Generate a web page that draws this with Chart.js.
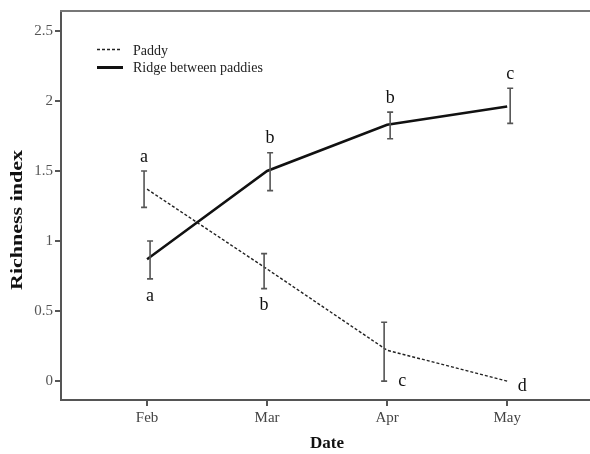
<!DOCTYPE html>
<html>
<head>
<meta charset="utf-8">
<script src="https://cdn.jsdelivr.net/npm/chart.js@4/dist/chart.umd.min.js"></script>
<style>
  html, body { margin: 0; padding: 0; background: #fff; }
  #wrap { width: 590px; height: 454px; position: relative; }
</style>
</head>
<body>
<div id="wrap"><canvas id="c" width="590" height="454"></canvas></div>
<script>
// ---- data ----
const months = ['Feb', 'Mar', 'Apr', 'May'];
const paddyMean = [1.37, 0.80, 0.22, 0.00];
const paddyUpper = [1.50, 0.91, 0.42, null];
const paddyLower = [1.24, 0.66, 0.00, null];
const paddyLetters = ['a', 'b', 'c', 'd'];
const ridgeMean = [0.87, 1.50, 1.83, 1.96];
const ridgeUpper = [1.00, 1.63, 1.92, 2.09];
const ridgeLower = [0.73, 1.36, 1.73, 1.84];
const ridgeLetters = ['a', 'b', 'b', 'c'];
const yTicks = [0, 0.5, 1, 1.5, 2, 2.5];
const xTitle = 'Date';
const yTitle = 'Richness index';
const seriesNames = ['Paddy', 'Ridge between paddies'];

const SERIF = '"Liberation Serif", "Times New Roman", serif';
const AXIS = '#555';

const extras = {
  id: 'extras',
  afterDatasetsDraw(chart) {
    const { ctx, chartArea, scales: { x, y } } = chart;
    ctx.save();
    // top frame line
    ctx.strokeStyle = '#777';
    ctx.lineWidth = 2;
    ctx.beginPath();
    ctx.moveTo(chartArea.left - 1, chartArea.top);
    ctx.lineTo(chartArea.right, chartArea.top);
    ctx.stroke();

    // error bars
    const drawErr = (upper, lower, dx) => {
      ctx.strokeStyle = '#555';
      ctx.lineWidth = 1.6;
      upper.forEach((u, i) => {
        if (u === null) return;
        const px = x.getPixelForValue(i + dx);
        const pt = y.getPixelForValue(u);
        const pb = y.getPixelForValue(lower[i]);
        ctx.beginPath();
        ctx.moveTo(px, pt); ctx.lineTo(px, pb);
        ctx.moveTo(px - 3, pt); ctx.lineTo(px + 3, pt);
        ctx.moveTo(px - 3, pb); ctx.lineTo(px + 3, pb);
        ctx.stroke();
      });
    };
    drawErr(paddyUpper, paddyLower, -0.025);
    drawErr(ridgeUpper, ridgeLower, 0.025);

    // letters
    ctx.fillStyle = '#111';
    ctx.font = '18px ' + SERIF;
    ctx.textAlign = 'center';
    ctx.textBaseline = 'middle';
    const paddyPlace = ['above', 'below', 'right', 'right'];
    const ridgePlace = ['below', 'above', 'above', 'above'];
    const drawLetters = (letters, place, mean, upper, lower, dx) => {
      letters.forEach((l, i) => {
        const px = x.getPixelForValue(i + dx);
        let tx = px, ty;
        if (place[i] === 'above') ty = y.getPixelForValue(upper[i]) - 14;
        else if (place[i] === 'below') ty = y.getPixelForValue(lower[i]) + 17;
        else { tx = px + 18; ty = y.getPixelForValue(lower[i] !== null ? lower[i] : mean[i]) + (lower[i] !== null ? 0 : 5); }
        ctx.fillText(l, tx, ty);
      });
    };
    drawLetters(paddyLetters, paddyPlace, paddyMean, paddyUpper, paddyLower, -0.025);
    drawLetters(ridgeLetters, ridgePlace, ridgeMean, ridgeUpper, ridgeLower, 0.025);

    // legend
    ctx.strokeStyle = '#222';
    ctx.lineWidth = 1.3;
    ctx.setLineDash([3, 2]);
    ctx.beginPath(); ctx.moveTo(97, 49.5); ctx.lineTo(122, 49.5); ctx.stroke();
    ctx.setLineDash([]);
    ctx.lineWidth = 3;
    ctx.strokeStyle = '#111';
    ctx.beginPath(); ctx.moveTo(97, 67.5); ctx.lineTo(123, 67.5); ctx.stroke();
    ctx.fillStyle = '#222';
    ctx.font = '14px ' + SERIF;
    ctx.textAlign = 'left';
    ctx.textBaseline = 'middle';
    ctx.fillText(seriesNames[0], 133, 51);
    ctx.fillText(seriesNames[1], 133, 68);

    // axis titles
    ctx.fillStyle = '#111';
    ctx.font = 'bold 17px ' + SERIF;
    ctx.textAlign = 'center';
    ctx.fillText(xTitle, 327, 444);
    ctx.translate(18, 220);
    ctx.rotate(-Math.PI / 2);
    const w = ctx.measureText(yTitle).width;
    ctx.scale(140 / w, 1);
    ctx.fillText(yTitle, 0, 0);
    ctx.restore();
  }
};

new Chart(document.getElementById('c'), {
  type: 'line',
  data: {
    datasets: [
      {
        label: seriesNames[0],
        data: paddyMean.map((v, i) => ({ x: i, y: v })),
        borderColor: '#222',
        borderWidth: 1.4,
        borderDash: [3, 2],
        pointRadius: 0,
        tension: 0,
        fill: false
      },
      {
        label: seriesNames[1],
        data: ridgeMean.map((v, i) => ({ x: i, y: v })),
        borderColor: '#111',
        borderWidth: 2.5,
        pointRadius: 0,
        tension: 0,
        fill: false
      }
    ]
  },
  options: {
    responsive: false,
    animation: false,
    devicePixelRatio: 1,
    layout: { padding: { top: 9, right: 0, left: 0, bottom: 0 } },
    plugins: { legend: { display: false }, tooltip: { enabled: false } },
    scales: {
      x: {
        type: 'linear',
        min: -0.717,
        max: 3.69,
        afterBuildTicks: (axis) => { axis.ticks = months.map((m, i) => ({ value: i })); },
        afterFit: (axis) => { axis.height = 54; },
        ticks: {
          callback: (v) => months[v],
          color: '#444',
          font: { family: SERIF, size: 15 },
          padding: 3,
          maxRotation: 0
        },
        grid: { display: true, drawOnChartArea: false, drawTicks: true, tickLength: 6, color: AXIS, lineWidth: 2 },
        border: { display: true, color: AXIS, width: 2 }
      },
      y: {
        type: 'linear',
        min: -0.135,
        max: 2.642,
        afterBuildTicks: (axis) => { axis.ticks = yTicks.map(v => ({ value: v })); },
        afterFit: (axis) => { axis.width = 61; },
        ticks: {
          callback: (v) => String(v),
          color: '#555',
          font: { family: SERIF, size: 15 },
          padding: 2
        },
        grid: { display: true, drawOnChartArea: false, drawTicks: true, tickLength: 6, color: AXIS, lineWidth: 2 },
        border: { display: true, color: AXIS, width: 2 }
      }
    }
  },
  plugins: [extras]
});
</script>
</body>
</html>
